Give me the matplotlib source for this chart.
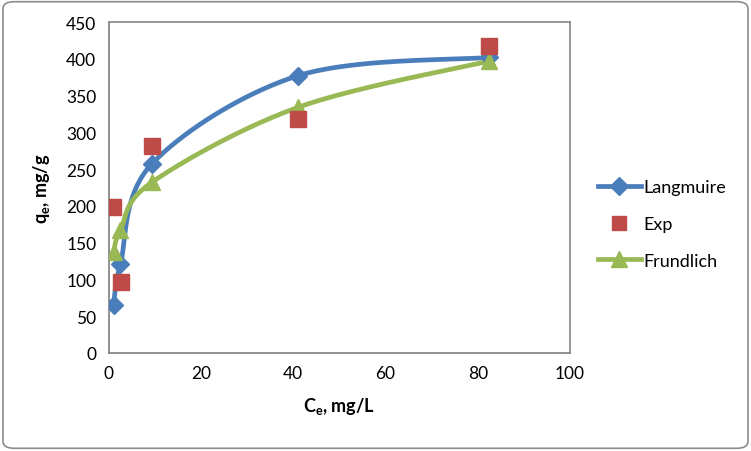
import matplotlib.pyplot as plt
import numpy as np
from matplotlib.patches import FancyBboxPatch

# data
ce_lang = [1.0, 2.5, 9.3, 41.0, 82.5]
qe_lang = [65, 121, 257, 377, 402]
ce_exp = [0.8, 2.7, 9.3, 41.0, 82.5]
qe_exp = [198, 96, 282, 318, 417]
ce_fr = [1.0, 2.5, 9.3, 41.0, 82.5]
qe_fr = [137, 167, 232, 334, 397]

plt.rcParams['font.family'] = ['Lato', 'DejaVu Sans']


def smooth(ax, x, y, n=40):
    # excel-like smoothing (catmull-rom in screen space)
    pts = ax.transData.transform(np.column_stack([x, y]))
    p = np.vstack([pts[0], pts, pts[-1]])
    out = []
    for i in range(1, len(p) - 2):
        p0, p1, p2, p3 = p[i - 1], p[i], p[i + 1], p[i + 2]
        t = np.linspace(0, 1, n)[:, None]
        c1 = p1 + (p2 - p0) / 6
        c2 = p2 - (p3 - p1) / 6
        seg = (1 - t)**3 * p1 + 3 * (1 - t)**2 * t * c1 + 3 * (1 - t) * t**2 * c2 + t**3 * p2
        out.append(seg)
    out = np.vstack(out)
    d = ax.transData.inverted().transform(out)
    return d[:, 0], d[:, 1]


fig = plt.figure(figsize=(7.51, 4.52), dpi=100)
fig.patches.append(FancyBboxPatch((0.004, 0.006), 0.992, 0.988, boxstyle="round,pad=0,rounding_size=0.015",
                                  transform=fig.transFigure, fill=False, ec='#8c8c8c', lw=1.2))
ax = fig.add_axes([0.145, 0.217, 0.614, 0.732])
ax.set_xlim(0, 100)
ax.set_ylim(0, 450)
ax.set_xticks(np.arange(0, 101, 20))
ax.set_yticks(np.arange(0, 451, 50))
ax.tick_params(length=0, labelsize=12.5, pad=9)
for s in ax.spines.values():
    s.set_color('#868686')
    s.set_linewidth(1.2)
ax.spines['left'].set_color('#7f7f7f')
ax.spines['bottom'].set_color('#7f7f7f')

blue = '#4A7EBB'
red = '#BE4B48'
green = '#98B954'

sx, sy = smooth(ax, ce_lang, qe_lang)
ax.plot(sx, sy, color=blue, lw=3.4, zorder=2, solid_capstyle='round')
ax.plot(ce_lang, qe_lang, 'D', color=blue, ms=9, zorder=3)
fx, fy = smooth(ax, ce_fr, qe_fr)
ax.plot(fx, fy, color=green, lw=3.4, zorder=2, solid_capstyle='round')
ax.plot(ce_fr, qe_fr, '^', color=green, ms=11, zorder=3)
ax.plot(ce_exp, qe_exp, 's', color=red, ms=11, zorder=4)

# legend handles
ax.plot([], [], color=blue, lw=3.4, marker='D', ms=9, label='Langmuire')
ax.plot([], [], ls='none', color=red, marker='s', ms=10, label='Exp')
ax.plot([], [], color=green, lw=3.4, marker='^', ms=11, label='Frundlich')
h, l = ax.get_legend_handles_labels()
ax.legend(h, l, loc='center left', bbox_to_anchor=(1.025, 0.39), frameon=False,
          fontsize=13, handlelength=2.4, labelspacing=1.15, handletextpad=0.15)

ax.set_xlabel('C$_\\mathregular{e}$, mg/L', fontsize=13, fontweight='bold', labelpad=10)
ax.set_ylabel('q$_\\mathregular{e}$, mg/g', fontsize=13, fontweight='bold', labelpad=10)

fig.savefig('out.png', dpi=100)
